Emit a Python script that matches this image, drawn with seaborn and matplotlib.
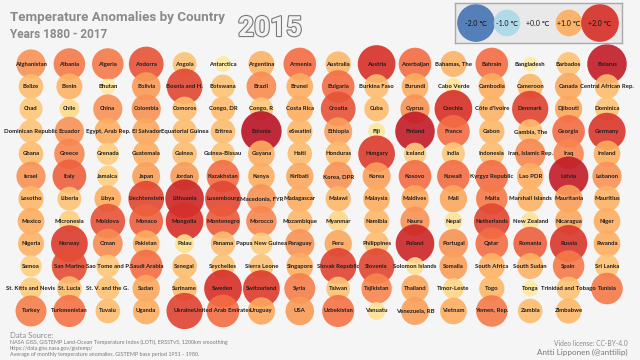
import matplotlib
matplotlib.use("Agg")
import matplotlib.pyplot as plt
import matplotlib.patheffects as pe
import seaborn as sns
import pandas as pd
import numpy as np

countries = [
    "Afghanistan", "Albania", "Algeria", "Andorra", "Angola", "Antarctica", "Argentina", "Armenia",
    "Australia", "Austria", "Azerbaijan", "Bahamas, The", "Bahrain", "Bangladesh", "Barbados", "Belarus",
    "Belize", "Benin", "Bhutan", "Bolivia", "Bosnia and H.", "Botswana", "Brazil", "Brunei",
    "Bulgaria", "Burkina Faso", "Burundi", "Cabo Verde", "Cambodia", "Cameroon", "Canada", "Central African Rep.",
    "Chad", "Chile", "China", "Colombia", "Comoros", "Congo, DR", "Congo, R", "Costa Rica",
    "Croatia", "Cuba", "Cyprus", "Czechia", "Côte d'Ivoire", "Denmark", "Djibouti", "Dominica",
    "Dominican Republic", "Ecuador", "Egypt, Arab Rep.", "El Salvador", "Equatorial Guinea", "Eritrea", "Estonia", "eSwatini",
    "Ethiopia", "Fiji", "Finland", "France", "Gabon", "Gambia, The", "Georgia", "Germany",
    "Ghana", "Greece", "Grenada", "Guatemala", "Guinea", "Guinea-Bissau", "Guyana", "Haiti",
    "Honduras", "Hungary", "Iceland", "India", "Indonesia", "Iran, Islamic Rep.", "Iraq", "Ireland",
    "Israel", "Italy", "Jamaica", "Japan", "Jordan", "Kazakhstan", "Kenya", "Kiribati",
    "Korea, DPR", "Korea", "Kosovo", "Kuwait", "Kyrgyz Republic", "Lao PDR", "Latvia", "Lebanon",
    "Lesotho", "Liberia", "Libya", "Liechtenstein", "Lithuania", "Luxembourg", "Macedonia, FYR", "Madagascar",
    "Malawi", "Malaysia", "Maldives", "Mali", "Malta", "Marshall Islands", "Mauritania", "Mauritius",
    "Mexico", "Micronesia", "Moldova", "Monaco", "Mongolia", "Montenegro", "Morocco", "Mozambique",
    "Myanmar", "Namibia", "Nauru", "Nepal", "Netherlands", "New Zealand", "Nicaragua", "Niger",
    "Nigeria", "Norway", "Oman", "Pakistan", "Palau", "Panama", "Papua New Guinea", "Paraguay",
    "Peru", "Philippines", "Poland", "Portugal", "Qatar", "Romania", "Russia", "Rwanda",
    "Samoa", "San Marino", "Sao Tome and P.", "Saudi Arabia", "Senegal", "Seychelles", "Sierra Leone", "Singapore",
    "Slovak Republic", "Slovenia", "Solomon Islands", "Somalia", "South Africa", "South Sudan", "Spain", "Sri Lanka",
    "St. Kitts and Nevis", "St. Lucia", "St. V. and the G.", "Sudan", "Suriname", "Sweden", "Switzerland", "Syria",
    "Taiwan", "Tajikistan", "Thailand", "Timor-Leste", "Togo", "Tonga", "Trinidad and Tobago", "Tunisia",
    "Turkey", "Turkmenistan", "Tuvalu", "Uganda", "Ukraine", "United Arab Emirates", "Uruguay", "USA",
    "Uzbekistan", "Vanuatu", "Venezuela, RB", "Vietnam", "Yemen, Rep.", "Zambia", "Zimbabwe",
]

anomalies = [
    1.2, 1.4, 1.4, 1.7, 0.8, 0.35, 0.95, 1.5, 0.9, 2.0, 1.5, 0.95, 1.5, 0.3, 0.8, 2.2,
    0.85, 0.95, 0.35, 1.15, 1.8, 0.8, 1.25, 1.0, 1.5, 0.85, 1.0, 0.4, 1.0, 0.9, 1.05, 0.85,
    0.75, 0.55, 1.2, 1.2, 0.85, 0.85, 0.75, 1.0, 1.7, 0.85, 1.2, 2.0, 0.95, 1.85, 1.05, 0.8,
    0.8, 1.2, 1.0, 1.05, 0.85, 0.85, 2.3, 0.9, 1.1, 0.4, 2.2, 1.5, 0.9, 0.85, 1.5, 1.95,
    0.85, 1.3, 0.7, 1.0, 0.85, 0.8, 1.0, 0.85, 0.9, 1.9, 0.7, 0.75, 0.85, 1.3, 1.3, 1.0,
    1.2, 1.6, 0.65, 1.1, 1.15, 1.5, 1.0, 1.05, 1.2, 1.1, 1.5, 1.5, 1.5, 1.0, 2.2, 1.2,
    0.9, 0.8, 1.0, 1.8, 2.1, 1.8, 1.2, 1.0, 0.9, 1.0, 1.05, 1.05, 1.4, 0.95, 1.1, 0.95,
    1.0, 0.65, 1.7, 1.6, 2.0, 1.65, 1.3, 0.9, 0.6, 0.9, 1.2, 0.45, 1.8, 0.45, 1.05, 1.0,
    0.95, 1.9, 1.25, 1.0, 0.5, 0.85, 0.7, 1.2, 1.05, 0.85, 2.1, 1.2, 1.5, 1.6, 1.95, 1.0,
    0.65, 1.75, 0.75, 1.5, 0.85, 0.8, 0.8, 1.0, 1.85, 1.8, 0.45, 1.1, 0.95, 0.95, 1.4, 0.8,
    0.7, 0.85, 0.8, 1.05, 0.85, 2.0, 1.9, 1.35, 0.8, 1.3, 1.05, 0.6, 0.9, 0.35, 0.8, 1.4,
    1.35, 1.45, 0.85, 1.0, 1.85, 1.5, 1.05, 1.15, 1.45, 0.45, 1.1, 1.0, 1.4, 0.85, 0.9,
]

legend_values = [-2.0, -1.0, 0.0, 1.0, 2.0]
legend_labels = ["-2.0 \u2103", "-1.0 \u2103", "+0.0 \u2103", "+1.0 \u2103", "+2.0 \u2103"]

NCOL = 16
BG = "#f5f5f5"
PAL = "RdYlBu_r"
HUE_NORM = (-2.5, 2.5)
SIZE_NORM = (0.0, 2.5)
SIZES = (0.0, 920.0)

sns.set_theme(style="white")
plt.rcParams["font.family"] = ["Lato", "DejaVu Sans"]

df = pd.DataFrame({"country": countries, "value": anomalies})
df["col"] = np.arange(len(df)) % NCOL
df["row"] = np.arange(len(df)) // NCOL

fig = plt.figure(figsize=(6.4, 3.6), dpi=100, facecolor=BG)
ax = fig.add_axes([0, 0, 1, 1])
ax.set_facecolor(BG)
sns.scatterplot(data=df, x="col", y="row", hue="value", size="value",
                palette=PAL, hue_norm=HUE_NORM, sizes=SIZES, size_norm=SIZE_NORM,
                alpha=0.9, linewidth=0, legend=False, ax=ax)
for _, r in df.iterrows():
    ax.text(r["col"], r["row"], r["country"], ha="center", va="center",
            fontsize=4.3, fontweight="bold", color="#1e1e1e")
dx = 38.4
dy = 22.45
ax.set_xlim(-31 / dx, 15 + (640 - 607) / dx)
ax.set_ylim(11 + (360 - 311) / dy, -64 / dy)
ax.axis("off")

# legend box
lax = fig.add_axes([455 / 640, 1 - 43 / 360, 167 / 640, 40 / 360])
lax.set_facecolor("#e9e9e9")
ldf = pd.DataFrame({"value": legend_values, "x": np.arange(len(legend_values)), "y": 0.0})
ldf["size"] = ldf["value"].abs()
sns.scatterplot(data=ldf, x="x", y="y", hue="value", size="size",
                palette=PAL, hue_norm=HUE_NORM, sizes=SIZES, size_norm=SIZE_NORM,
                alpha=0.9, linewidth=0, legend=False, ax=lax)
for i, lab in enumerate(legend_labels):
    lax.text(i, 0, lab, ha="center", va="center", fontsize=5, color="#111111")
lax.set_xlim(-21 / 31, 4 + 22 / 31)
lax.set_ylim(-1, 1)
lax.set_xticks([]); lax.set_yticks([])
lax.set_xlabel(""); lax.set_ylabel("")
for s in lax.spines.values():
    s.set_color("#aaaaaa"); s.set_linewidth(1)

narrow = ["Roboto", "DejaVu Sans"]
fig.text(10 / 640, 1 - 21 / 360, "Temperature Anomalies by Country", fontsize=9.6,
         fontweight="bold", color="#8a8a8a", family=narrow, ha="left", va="baseline")
fig.text(10 / 640, 1 - 38 / 360, "Years 1880 - 2017", fontsize=8.5,
         fontweight="bold", color="#8a8a8a", family=narrow, ha="left", va="baseline")
t = fig.text(270 / 640, 1 - 36 / 360, "2015", fontsize=20, fontweight="bold",
             color="#f2f2f2", family=narrow, ha="center", va="baseline")
t.set_path_effects([pe.Stroke(linewidth=1.6, foreground="#7a7a7a"), pe.Normal()])

fig.text(10 / 640, 1 - 336 / 360, "Data Source:", fontsize=5.5, color="#8a8a8a", va="center")
foot = ["NASA GISS, GISTEMP Land-Ocean Temperature Index (LOTI), ERSSTv5, 1200km smoothing",
        "https://data.giss.nasa.gov/gistemp/",
        "Average of monthly temperature anomalies. GISTEMP base period 1951 - 1980."]
for k, line in enumerate(foot):
    fig.text(10 / 640, 1 - (342.5 + 6 * k) / 360, line, fontsize=3.9, color="#7a7a7a", va="center")
fig.text(628 / 640, 1 - 344 / 360, "Video license: CC-BY-4.0", fontsize=4.8,
         color="#8a8a8a", ha="right", va="center")
fig.text(628 / 640, 1 - 352 / 360, "Antti Lipponen (@anttilip)", fontsize=5.8,
         color="#777777", ha="right", va="center")

fig.savefig("out.png", dpi=100, facecolor=BG)
